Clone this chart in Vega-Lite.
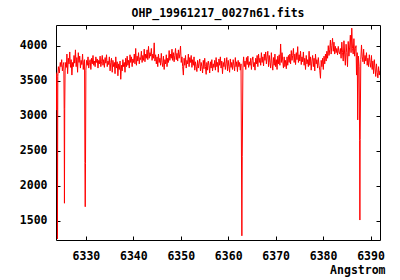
{
  "$schema": "https://vega.github.io/schema/vega-lite/v6.json",
  "width": 324,
  "height": 215,
  "autosize": {"type": "none"},
  "padding": {"left": 56, "top": 25, "right": 20, "bottom": 40},
  "background": "white",
  "title": {"text": "OHP_19961217_0027n61.fits", "font": "DejaVu Sans Mono", "fontSize": 11.5, "fontWeight": "bold", "color": "black", "offset": 5, "anchor": "middle"},
  "config": {
    "view": {"stroke": "black", "strokeWidth": 1},
    "axis": {"labelFont": "DejaVu Sans Mono", "labelFontSize": 11.5, "labelFontWeight": "bold", "labelColor": "black", "tickColor": "black", "tickSize": -4, "grid": false, "domain": false, "titleFont": "DejaVu Sans Mono", "titleFontSize": 11.5, "titleFontWeight": "bold", "titleColor": "black", "format": "d"}
  },
  "data": {"values": [
    {"w":6323.70,"f":3620},{"w":6323.78,"f":3080},{"w":6323.86,"f":3600},{"w":6323.94,"f":3090},{"w":6324.00,"f":1240},{"w":6324.08,"f":3560},{"w":6324.2,"f":3700},
    {"w":6324.4,"f":3610},{"w":6324.6,"f":3760},{"w":6324.75,"f":3700},{"w":6324.9,"f":3800},{"w":6325.05,"f":3640},{"w":6325.2,"f":3720},{"w":6325.35,"f":3760},{"w":6325.42,"f":3090},{"w":6325.48,"f":1750},{"w":6325.54,"f":3100},{"w":6325.62,"f":3640},
    {"w":6325.75,"f":3760},{"w":6325.9,"f":3690},{"w":6326.0,"f":3880},{"w":6326.15,"f":3600},{"w":6326.3,"f":3820},{"w":6326.45,"f":3740},{"w":6326.6,"f":3910},{"w":6326.75,"f":3690},{"w":6326.9,"f":3800},{"w":6327.05,"f":3580},{"w":6327.2,"f":3760},{"w":6327.35,"f":3700},{"w":6327.5,"f":3860},{"w":6327.65,"f":3750},
    {"w":6327.8,"f":3940},{"w":6327.95,"f":3700},{"w":6328.1,"f":3830},{"w":6328.25,"f":3620},{"w":6328.4,"f":3900},{"w":6328.55,"f":3760},{"w":6328.7,"f":3850},{"w":6328.85,"f":3680},{"w":6329.0,"f":3790},{"w":6329.15,"f":3730},{"w":6329.3,"f":3880},{"w":6329.45,"f":3660},{"w":6329.6,"f":3780},
    {"w":6329.72,"f":3800},{"w":6329.80,"f":2330},{"w":6329.86,"f":1700},{"w":6329.92,"f":2320},{"w":6330.0,"f":3650},
    {"w":6330.15,"f":3790},{"w":6330.3,"f":3720},{"w":6330.45,"f":3840},{"w":6330.6,"f":3680},{"w":6330.75,"f":3760},{"w":6330.9,"f":3800},{"w":6331.05,"f":3660},{"w":6331.2,"f":3820},{"w":6331.35,"f":3740},{"w":6331.5,"f":3860},{"w":6331.65,"f":3720},{"w":6331.8,"f":3780},
    {"w":6331.95,"f":3700},{"w":6332.1,"f":3840},{"w":6332.25,"f":3760},{"w":6332.4,"f":3810},{"w":6332.55,"f":3680},{"w":6332.7,"f":3790},{"w":6332.85,"f":3740},{"w":6333.0,"f":3850},{"w":6333.15,"f":3700},{"w":6333.3,"f":3770},{"w":6333.45,"f":3860},{"w":6333.6,"f":3720},
    {"w":6333.75,"f":3800},{"w":6333.9,"f":3690},{"w":6334.05,"f":3830},{"w":6334.2,"f":3750},{"w":6334.35,"f":3870},{"w":6334.5,"f":3700},{"w":6334.65,"f":3780},{"w":6334.8,"f":3730},{"w":6334.95,"f":3840},{"w":6335.1,"f":3640},{"w":6335.25,"f":3760},{"w":6335.4,"f":3820},
    {"w":6335.55,"f":3620},{"w":6335.7,"f":3790},{"w":6335.85,"f":3700},{"w":6336.0,"f":3760},{"w":6336.15,"f":3600},{"w":6336.3,"f":3840},{"w":6336.45,"f":3680},{"w":6336.6,"f":3770},{"w":6336.75,"f":3570},{"w":6336.9,"f":3740},{"w":6337.05,"f":3660},{"w":6337.2,"f":3780},
    {"w":6337.35,"f":3520},{"w":6337.5,"f":3720},{"w":6337.65,"f":3640},{"w":6337.8,"f":3800},{"w":6337.95,"f":3700},{"w":6338.1,"f":3760},{"w":6338.25,"f":3620},{"w":6338.4,"f":3820},{"w":6338.55,"f":3700},{"w":6338.7,"f":3850},{"w":6338.85,"f":3720},{"w":6339.0,"f":3790},
    {"w":6339.15,"f":3680},{"w":6339.3,"f":3870},{"w":6339.45,"f":3760},{"w":6339.6,"f":3840},{"w":6339.75,"f":3700},{"w":6339.9,"f":3810},{"w":6340.05,"f":3760},{"w":6340.2,"f":3880},{"w":6340.35,"f":3740},{"w":6340.5,"f":3960},{"w":6340.65,"f":3720},{"w":6340.8,"f":3850},
    {"w":6340.95,"f":3780},{"w":6341.1,"f":3900},{"w":6341.25,"f":3740},{"w":6341.4,"f":3830},{"w":6341.55,"f":3800},{"w":6341.7,"f":3920},{"w":6341.85,"f":3760},{"w":6342.0,"f":3860},{"w":6342.15,"f":3790},{"w":6342.3,"f":3950},{"w":6342.45,"f":3770},{"w":6342.6,"f":3880},
    {"w":6342.75,"f":3820},{"w":6342.9,"f":3940},{"w":6343.05,"f":3800},{"w":6343.2,"f":3990},{"w":6343.35,"f":3820},{"w":6343.5,"f":3900},{"w":6343.65,"f":3850},{"w":6343.8,"f":3960},{"w":6343.95,"f":3790},{"w":6344.1,"f":3880},{"w":6344.25,"f":3820},{"w":6344.4,"f":4040},
    {"w":6344.55,"f":3780},{"w":6344.7,"f":3870},{"w":6344.85,"f":3740},{"w":6345.0,"f":3840},{"w":6345.15,"f":3700},{"w":6345.3,"f":3880},{"w":6345.45,"f":3760},{"w":6345.6,"f":3820},{"w":6345.75,"f":3720},{"w":6345.9,"f":3890},{"w":6346.05,"f":3760},{"w":6346.2,"f":3700},
    {"w":6346.35,"f":3850},{"w":6346.5,"f":3660},{"w":6346.65,"f":3800},{"w":6346.8,"f":3740},{"w":6346.95,"f":3870},{"w":6347.1,"f":3700},{"w":6347.25,"f":3820},{"w":6347.4,"f":3760},{"w":6347.55,"f":3930},{"w":6347.7,"f":3790},{"w":6347.85,"f":3880},{"w":6348.0,"f":3820},
    {"w":6348.15,"f":3950},{"w":6348.3,"f":3790},{"w":6348.45,"f":3900},{"w":6348.6,"f":3770},{"w":6348.75,"f":3860},{"w":6348.9,"f":3960},{"w":6349.05,"f":3800},{"w":6349.2,"f":3890},{"w":6349.35,"f":3780},{"w":6349.5,"f":3940},{"w":6349.65,"f":3820},{"w":6349.8,"f":3880},
    {"w":6349.95,"f":3995},{"w":6350.1,"f":3760},{"w":6350.25,"f":3840},{"w":6350.4,"f":3700},{"w":6350.55,"f":3580},{"w":6350.7,"f":3820},{"w":6350.85,"f":3720},{"w":6351.0,"f":3860},{"w":6351.15,"f":3680},{"w":6351.3,"f":3790},{"w":6351.45,"f":3740},{"w":6351.6,"f":3880},
    {"w":6351.75,"f":3700},{"w":6351.9,"f":3830},{"w":6352.05,"f":3760},{"w":6352.2,"f":3860},{"w":6352.35,"f":3690},{"w":6352.5,"f":3800},{"w":6352.65,"f":3720},{"w":6352.8,"f":3840},{"w":6352.95,"f":3650},{"w":6353.1,"f":3770},{"w":6353.25,"f":3700},{"w":6353.4,"f":3630},
    {"w":6353.55,"f":3790},{"w":6353.7,"f":3680},{"w":6353.85,"f":3750},{"w":6354.0,"f":3810},{"w":6354.15,"f":3640},{"w":6354.3,"f":3760},{"w":6354.45,"f":3700},{"w":6354.6,"f":3610},{"w":6354.75,"f":3790},{"w":6354.9,"f":3670},{"w":6355.05,"f":3820},{"w":6355.2,"f":3700},
    {"w":6355.35,"f":3590},{"w":6355.5,"f":3760},{"w":6355.65,"f":3650},{"w":6355.8,"f":3780},{"w":6355.95,"f":3720},{"w":6356.1,"f":3610},{"w":6356.25,"f":3770},{"w":6356.4,"f":3680},{"w":6356.55,"f":3800},{"w":6356.7,"f":3640},{"w":6356.85,"f":3740},{"w":6357.0,"f":3690},
    {"w":6357.15,"f":3790},{"w":6357.3,"f":3650},{"w":6357.45,"f":3830},{"w":6357.6,"f":3700},{"w":6357.75,"f":3760},{"w":6357.9,"f":3620},{"w":6358.05,"f":3810},{"w":6358.2,"f":3720},{"w":6358.35,"f":3840},{"w":6358.5,"f":3680},{"w":6358.65,"f":3780},{"w":6358.8,"f":3600},
    {"w":6358.95,"f":3760},{"w":6359.1,"f":3700},{"w":6359.25,"f":3820},{"w":6359.4,"f":3660},{"w":6359.55,"f":3740},{"w":6359.7,"f":3830},{"w":6359.85,"f":3640},{"w":6360.0,"f":3790},{"w":6360.15,"f":3700},{"w":6360.3,"f":3620},{"w":6360.45,"f":3810},{"w":6360.6,"f":3690},
    {"w":6360.75,"f":3760},{"w":6360.9,"f":3660},{"w":6361.05,"f":3800},{"w":6361.2,"f":3720},{"w":6361.35,"f":3640},{"w":6361.5,"f":3830},{"w":6361.65,"f":3700},{"w":6361.8,"f":3770},{"w":6361.95,"f":3630},{"w":6362.1,"f":3790},{"w":6362.25,"f":3700},{"w":6362.4,"f":3760},
    {"w":6362.55,"f":3650},{"w":6362.7,"f":3740},{"w":6362.8,"f":2410},{"w":6362.88,"f":1285},{"w":6362.96,"f":2420},{"w":6363.1,"f":3680},
    {"w":6363.25,"f":3840},{"w":6363.4,"f":3700},{"w":6363.55,"f":3780},{"w":6363.7,"f":3660},{"w":6363.85,"f":3830},{"w":6364.0,"f":3730},{"w":6364.15,"f":3850},{"w":6364.3,"f":3690},{"w":6364.45,"f":3770},{"w":6364.6,"f":3720},{"w":6364.75,"f":3820},{"w":6364.9,"f":3660},
    {"w":6365.05,"f":3790},{"w":6365.2,"f":3840},{"w":6365.35,"f":3700},{"w":6365.5,"f":3760},{"w":6365.65,"f":3650},{"w":6365.8,"f":3820},{"w":6365.95,"f":3740},{"w":6366.1,"f":3860},{"w":6366.25,"f":3700},{"w":6366.4,"f":3880},{"w":6366.55,"f":3760},{"w":6366.7,"f":3820},
    {"w":6366.85,"f":3720},{"w":6367.0,"f":3900},{"w":6367.15,"f":3760},{"w":6367.3,"f":3840},{"w":6367.45,"f":3710},{"w":6367.6,"f":3880},{"w":6367.75,"f":3790},{"w":6367.9,"f":3910},{"w":6368.05,"f":3740},{"w":6368.2,"f":3840},{"w":6368.35,"f":3920},{"w":6368.5,"f":3700},
    {"w":6368.65,"f":3860},{"w":6368.8,"f":3760},{"w":6368.95,"f":3680},{"w":6369.1,"f":3900},{"w":6369.25,"f":3740},{"w":6369.4,"f":3650},{"w":6369.55,"f":3830},{"w":6369.7,"f":3720},{"w":6369.85,"f":3880},{"w":6370.0,"f":3700},{"w":6370.15,"f":3800},{"w":6370.3,"f":3660},
    {"w":6370.45,"f":3850},{"w":6370.6,"f":3740},{"w":6370.75,"f":3870},{"w":6370.9,"f":3720},{"w":6371.05,"f":4024},{"w":6371.2,"f":3760},{"w":6371.35,"f":3900},{"w":6371.5,"f":3780},{"w":6371.65,"f":3680},{"w":6371.8,"f":3840},{"w":6371.95,"f":3700},{"w":6372.1,"f":3790},
    {"w":6372.25,"f":3670},{"w":6372.4,"f":3840},{"w":6372.55,"f":3720},{"w":6372.7,"f":3860},{"w":6372.85,"f":3760},{"w":6373.0,"f":3880},{"w":6373.15,"f":3740},{"w":6373.3,"f":3930},{"w":6373.45,"f":3790},{"w":6373.6,"f":3860},{"w":6373.75,"f":3960},{"w":6373.9,"f":3760},
    {"w":6374.05,"f":3880},{"w":6374.2,"f":3730},{"w":6374.35,"f":3900},{"w":6374.5,"f":3800},{"w":6374.65,"f":3986},{"w":6374.8,"f":3760},{"w":6374.95,"f":3870},{"w":6375.1,"f":3780},{"w":6375.25,"f":3920},{"w":6375.4,"f":3730},{"w":6375.55,"f":3840},{"w":6375.7,"f":3770},
    {"w":6375.85,"f":3910},{"w":6376.0,"f":3720},{"w":6376.15,"f":3820},{"w":6376.3,"f":3660},{"w":6376.45,"f":3860},{"w":6376.6,"f":3740},{"w":6376.75,"f":3800},{"w":6376.9,"f":3700},{"w":6377.05,"f":3920},{"w":6377.2,"f":3720},{"w":6377.35,"f":3840},{"w":6377.5,"f":3650},
    {"w":6377.65,"f":3780},{"w":6377.8,"f":3860},{"w":6377.95,"f":3700},{"w":6378.1,"f":3820},{"w":6378.25,"f":3640},{"w":6378.4,"f":3880},{"w":6378.55,"f":3740},{"w":6378.7,"f":3800},{"w":6378.85,"f":3680},{"w":6379.0,"f":3830},{"w":6379.15,"f":3720},{"w":6379.3,"f":3650},
    {"w":6379.45,"f":3534},{"w":6379.6,"f":3790},{"w":6379.75,"f":3700},{"w":6379.9,"f":3820},{"w":6380.05,"f":3660},{"w":6380.2,"f":3850},{"w":6380.35,"f":3740},{"w":6380.5,"f":3880},{"w":6380.65,"f":3780},{"w":6380.8,"f":3920},
    {"w":6380.95,"f":3820},{"w":6381.1,"f":4000},{"w":6381.25,"f":3860},{"w":6381.4,"f":3940},{"w":6381.55,"f":4080},{"w":6381.7,"f":3880},{"w":6381.85,"f":4000},{"w":6382.0,"f":4105},{"w":6382.15,"f":3920},{"w":6382.3,"f":4050},{"w":6382.45,"f":3880},{"w":6382.6,"f":3990},
    {"w":6382.75,"f":3900},{"w":6382.9,"f":3960},{"w":6383.05,"f":3870},{"w":6383.2,"f":3990},{"w":6383.35,"f":3910},{"w":6383.5,"f":3880},{"w":6383.65,"f":3960},{"w":6383.8,"f":3820},{"w":6383.95,"f":4050},{"w":6384.1,"f":3900},{"w":6384.25,"f":3780},{"w":6384.4,"f":4070},
    {"w":6384.55,"f":3880},{"w":6384.7,"f":3720},{"w":6384.85,"f":4020},{"w":6385.0,"f":3900},{"w":6385.15,"f":3700},{"w":6385.3,"f":4060},{"w":6385.45,"f":3850},{"w":6385.6,"f":3980},{"w":6385.75,"f":4150},{"w":6385.9,"f":3900},{"w":6386.05,"f":4250},{"w":6386.2,"f":3960},
    {"w":6386.35,"f":3880},{"w":6386.5,"f":4100},{"w":6386.65,"f":3850},{"w":6386.8,"f":3960},{"w":6386.95,"f":4000},{"w":6387.05,"f":3580},{"w":6387.2,"f":3900},{"w":6387.3,"f":2940},{"w":6387.45,"f":3850},{"w":6387.6,"f":3700},{"w":6387.7,"f":2650},{"w":6387.76,"f":1510},{"w":6387.82,"f":2660},{"w":6387.95,"f":3800},
    {"w":6388.1,"f":4010},{"w":6388.25,"f":3840},{"w":6388.4,"f":3770},{"w":6388.55,"f":3950},{"w":6388.7,"f":3740},{"w":6388.85,"f":3860},{"w":6389.0,"f":3780},{"w":6389.15,"f":3900},{"w":6389.3,"f":3720},{"w":6389.45,"f":3820},{"w":6389.6,"f":3700},{"w":6389.75,"f":3870},
    {"w":6389.9,"f":3760},{"w":6390.05,"f":3690},{"w":6390.2,"f":3860},{"w":6390.35,"f":3660},{"w":6390.5,"f":3780},{"w":6390.65,"f":3600},{"w":6390.8,"f":3800},{"w":6390.95,"f":3680},{"w":6391.1,"f":3560},{"w":6391.25,"f":3740},{"w":6391.4,"f":3620},{"w":6391.55,"f":3540},{"w":6391.7,"f":3700},{"w":6391.85,"f":3580},{"w":6391.97,"f":3640}
  ]},
  "layer": [
    {
      "mark": {"type": "line", "color": "#ff0000", "strokeWidth": 1, "clip": true},
      "encoding": {
        "x": {"field": "w", "type": "quantitative", "scale": {"domain": [6323.7, 6392], "nice": false, "zero": false},
              "axis": {"orient": "bottom", "values": [6330, 6340, 6350, 6360, 6370, 6380, 6390], "labelPadding": 14, "title": "Angstrom", "titleAnchor": "end", "titleAlign": "right", "titleBaseline": "middle", "titleX": 329, "titleY": 30}},
        "y": {"field": "f", "type": "quantitative", "scale": {"domain": [1225, 4295], "nice": false, "zero": false},
              "axis": {"orient": "left", "values": [1500, 2000, 2500, 3000, 3500, 4000], "labelPadding": 13, "title": null}}
      }
    },
    {
      "mark": {"type": "line", "opacity": 0},
      "encoding": {
        "x": {"field": "w", "type": "quantitative", "axis": {"orient": "top", "values": [6330, 6340, 6350, 6360, 6370, 6380, 6390], "labels": false, "title": null}},
        "y": {"field": "f", "type": "quantitative", "axis": {"orient": "right", "values": [1500, 2000, 2500, 3000, 3500, 4000], "labels": false, "title": null}}
      }
    }
  ],
  "resolve": {"axis": {"x": "independent", "y": "independent"}}
}
